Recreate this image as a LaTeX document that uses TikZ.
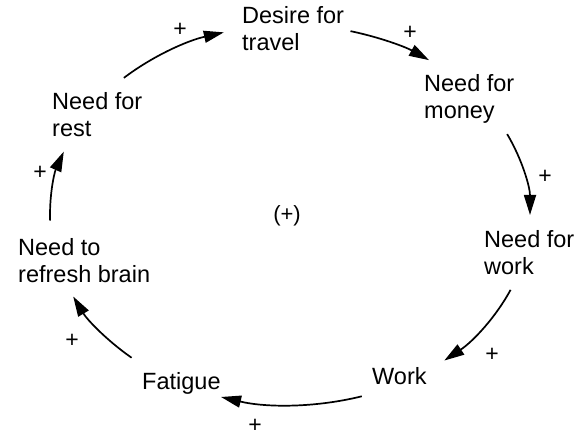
\documentclass[tikz,border=0pt]{standalone}
\usepackage{fontspec}
\setmainfont{Liberation Sans}
\usetikzlibrary{arrows.meta}
\begin{document}
\begin{tikzpicture}[x=1pt,y=-1pt,
  lbl/.style={anchor=base west,inner sep=0pt,align=left,font=\fontsize{23.5}{27}\selectfont},
  sgn/.style={inner sep=0pt,font=\fontsize{23}{23}\selectfont},
  arr/.style={line width=1.7pt,-{Triangle[length=20pt,width=12pt]}},
  ell/.style={x radius=240,y radius=190}]
\useasboundingbox (0,0) rectangle (580,438);
\coordinate (C) at (290,215);
\node[lbl] (desire) at (242,51) {Desire for\\travel};
\node[lbl] (money) at (424,119) {Need for\\money};
\node[lbl] (needwork) at (484,274) {Need for\\work};
\node[lbl] (work) at (372,384) {Work};
\node[lbl] (fatigue) at (142,389) {Fatigue};
\node[lbl] (refresh) at (18,282) {Need to\\refresh brain};
\node[lbl] (rest) at (52,137) {Need for\\rest};
\node[inner sep=0pt,font=\fontsize{22}{22}\selectfont] (loop) at (287,216) {(+)};
\draw[arr] ([shift={(-133.8:240 and 190)}]C) arc[start angle=-133.8,end angle=-106,ell];
\draw[arr] ([shift={(-75.4:240 and 190)}]C) arc[start angle=-75.4,end angle=-54.6,ell];
\draw[arr] ([shift={(-25.2:240 and 190)}]C) arc[start angle=-25.2,end angle=0,ell];
\draw[arr] ([shift={(23.2:240 and 190)}]C) arc[start angle=23.2,end angle=50,ell];
\draw[arr] ([shift={(72.6:240 and 190)}]C) arc[start angle=72.6,end angle=106.7,ell];
\draw[arr] ([shift={(131.3:240 and 190)}]C) arc[start angle=131.3,end angle=154.6,ell];
\draw[arr] ([shift={(178.3:240 and 190)}]C) arc[start angle=178.3,end angle=199.5,ell];
\node[sgn] (p1) at (180,30) {+};
\node[sgn] (p2) at (410,33) {+};
\node[sgn] (p3) at (545,177) {+};
\node[sgn] (p4) at (492,355) {+};
\node[sgn] (p5) at (255,426) {+};
\node[sgn] (p6) at (72,341) {+};
\node[sgn] (p7) at (40,173) {+};
\end{tikzpicture}
\end{document}
